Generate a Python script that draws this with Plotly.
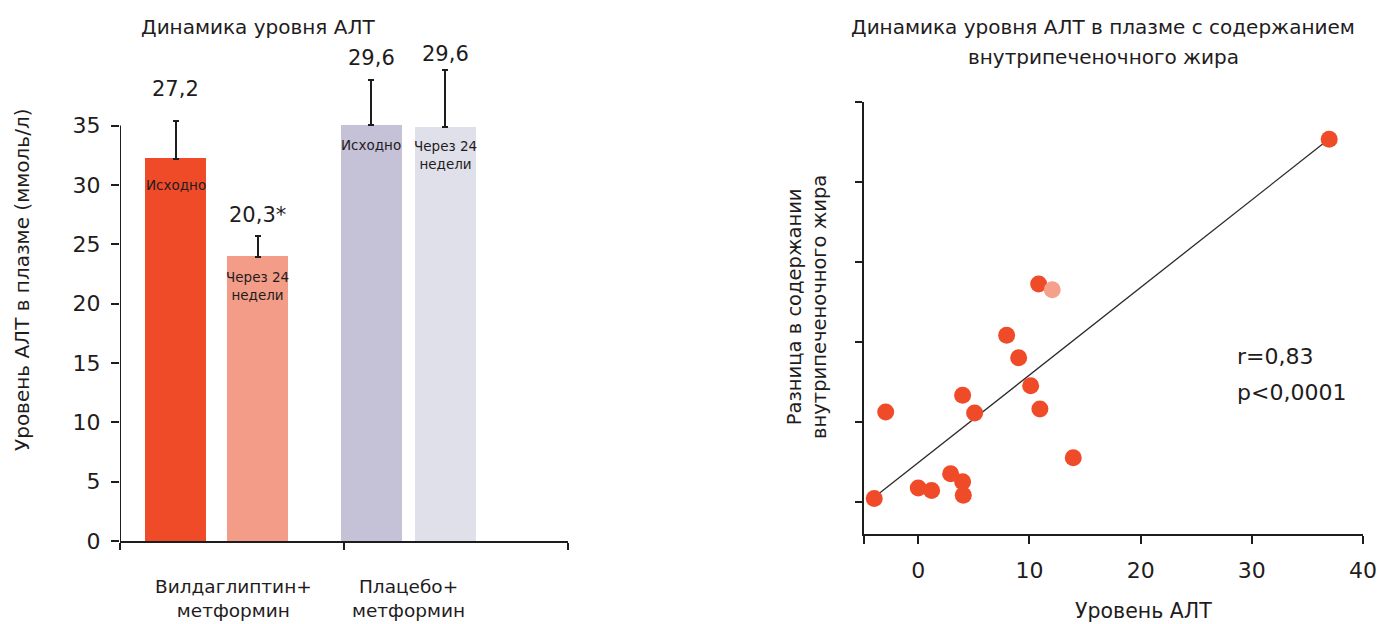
import plotly.graph_objects as go

# ---- data: left panel (ALT level dynamics) ----
bar_names = ["Исходно", "Через 24<br>недели", "Исходно", "Через 24<br>недели"]
bar_positions = [0.248, 0.614, 1.122, 1.453]
bar_values = [32.2, 23.95, 35.05, 34.85]
bar_err_plus = [3.2, 1.75, 3.75, 4.8]
bar_value_labels = ["27,2", "20,3*", "29,6", "29,6"]
bar_colors = ["#F04B29", "#F39D88", "#C5C2D8", "#E0E0EA"]
group_labels = ["Вилдаглиптин+<br>метформин", "Плацебо+<br>метформин"]
group_label_pos = [0.507, 1.29]
left_yticks = [0, 5, 10, 15, 20, 25, 30, 35]

# ---- data: right panel (ALT vs intrahepatic fat) ----
alt_x = [-3.96, -2.93, 0.0, 1.2, 2.91, 3.99, 4.05, 3.99, 5.07, 7.95, 9.03, 10.11, 10.94, 13.94, 10.83, 36.96]
fat_y = [0.04, 1.12, 0.17, 0.14, 0.35, 0.25, 0.08, 1.33, 1.11, 2.08, 1.80, 1.45, 1.16, 0.55, 2.72, 4.53]
alt_x_hl = [12.05]
fat_y_hl = [2.65]
fit_slope = 0.1095
fit_intercept = 0.488
fit_x_span = [-3.5, 36.4]
right_xticks = [0, 10, 20, 30, 40]
right_yticks = [0, 1, 2, 3, 4, 5]
right_title_lines = ["Динамика уровня АЛТ в плазме с содержанием", "внутрипеченочного жира"]

W, H = 1389, 624
INK = "#1F1C1D"
FONT = "DejaVu Sans"


def px_x(p):
    return p / W


def px_y(p):
    return 1 - p / H


fig = go.Figure()

# bars with one-sided error bars
fig.add_trace(go.Bar(
    x=bar_positions, y=bar_values, width=0.272,
    marker=dict(color=bar_colors, line=dict(width=0)),
    error_y=dict(type="data", symmetric=False, array=bar_err_plus,
                 arrayminus=[0] * len(bar_values),
                 color=INK, thickness=2, width=3),
    xaxis="x", yaxis="y", showlegend=False, hoverinfo="skip",
))

# regression line
fit_y = [fit_intercept + fit_slope * v for v in fit_x_span]
fig.add_trace(go.Scatter(
    x=fit_x_span, y=fit_y, mode="lines",
    line=dict(color="#2a2a2a", width=1.3),
    xaxis="x2", yaxis="y2", showlegend=False, hoverinfo="skip",
))
fig.add_trace(go.Scatter(
    x=alt_x, y=fat_y, mode="markers",
    marker=dict(color="#F04B29", size=17, line=dict(width=0)),
    xaxis="x2", yaxis="y2", showlegend=False,
))
fig.add_trace(go.Scatter(
    x=alt_x_hl, y=fat_y_hl, mode="markers",
    marker=dict(color="#F4A08A", size=17, line=dict(width=0)),
    xaxis="x2", yaxis="y2", showlegend=False,
))

# left panel axes: y from 0 at px 541, 11.87 px per unit
y0_px, unit_px = 541, 11.87
ytop_val = 42
left_dom_y = [px_y(y0_px), px_y(y0_px - ytop_val * unit_px)]

axis_common = dict(showgrid=False, zeroline=False, ticks="outside", automargin=False,
                   tickcolor=INK, tickwidth=2, linecolor=INK, linewidth=2,
                   tickfont=dict(family=FONT, size=22, color=INK))

fig.update_layout(
    width=W, height=H, margin=dict(l=0, r=0, t=0, b=0, autoexpand=False),
    paper_bgcolor="white", plot_bgcolor="white",
    bargap=0,
    xaxis=dict(domain=[px_x(120), px_x(568)], range=[0, 2],
               tickvals=[0, 1, 2], ticktext=["", "", ""], ticklen=7,
               showline=True, anchor="y", **{k: v for k, v in axis_common.items() if k != "tickfont"}),
    yaxis=dict(domain=left_dom_y, range=[0, ytop_val], tickvals=left_yticks,
               ticklen=8, showline=False, anchor="x", ticklabelstandoff=6, **axis_common),
    xaxis2=dict(domain=[px_x(864), px_x(1363)], range=[-4.88, 40],
                tickvals=[-4.87] + right_xticks,
                ticktext=[""] + [str(v) for v in right_xticks],
                ticklen=8, showline=True, anchor="y2", ticklabelstandoff=7, **axis_common),
    yaxis2=dict(domain=[px_y(534.3), px_y(101.7)], range=[-0.4075, 5],
                tickvals=right_yticks, showticklabels=False, ticklen=7,
                showline=True, anchor="x2", **axis_common),
)

# left y-axis line (only up to 35)
fig.add_shape(type="line", xref="x", yref="y", x0=0, x1=0, y0=0, y1=35,
              line=dict(color=INK, width=2), layer="above")

ann = []
# value labels above error bars
label_shift = [31.7, 20.7, 22.7, 16.3]
for xp, v, e, t, s in zip(bar_positions, bar_values, bar_err_plus, bar_value_labels, label_shift):
    ann.append(dict(x=xp, y=v + e, xref="x", yref="y", text=t, showarrow=False,
                    xanchor="center", yanchor="middle", yshift=s,
                    font=dict(family=FONT, size=21, color=INK)))
# labels inside bars
inner_shift = [-26.7, -29, -20, -27.7]
for xp, v, t, s in zip(bar_positions, bar_values, bar_names, inner_shift):
    ann.append(dict(x=xp, y=v, xref="x", yref="y", text=t, showarrow=False,
                    xanchor="center", yanchor="middle", yshift=s,
                    font=dict(family=FONT, size=13.5, color=INK)))
# group labels
for xp, t in zip(group_label_pos, group_labels):
    ann.append(dict(x=xp, y=px_y(598), xref="x", yref="paper", text=t, showarrow=False,
                    xanchor="center", yanchor="middle",
                    font=dict(family=FONT, size=18.5, color=INK)))

# titles
ann.append(dict(x=px_x(258), y=px_y(27), xref="paper", yref="paper",
                text="Динамика уровня АЛТ", showarrow=False,
                xanchor="center", yanchor="middle",
                font=dict(family=FONT, size=20, color=INK)))
for line_text, line_y in zip(right_title_lines, [27, 57]):
    ann.append(dict(x=px_x(1103), y=px_y(line_y), xref="paper", yref="paper",
                    text=line_text, showarrow=False, xanchor="center", yanchor="middle",
                    font=dict(family=FONT, size=20, color=INK)))
# axis titles
ann.append(dict(x=px_x(22), y=px_y(280), xref="paper", yref="paper",
                text="Уровень АЛТ в плазме (ммоль/л)", showarrow=False, textangle=-90,
                xanchor="center", yanchor="middle",
                font=dict(family=FONT, size=20, color=INK)))
ann.append(dict(x=px_x(807), y=px_y(307), xref="paper", yref="paper",
                text="Разница в содержании<br>внутрипеченочного жира", showarrow=False,
                textangle=-90, xanchor="center", yanchor="middle",
                font=dict(family=FONT, size=19.5, color=INK)))
ann.append(dict(x=px_x(1143), y=px_y(611), xref="paper", yref="paper",
                text="Уровень АЛТ", showarrow=False,
                xanchor="center", yanchor="middle",
                font=dict(family=FONT, size=20.5, color=INK)))
# correlation stats
ann.append(dict(x=28.5, y=1.81, xref="x2", yref="y2", text="r=0,83", showarrow=False,
                xanchor="left", yanchor="middle", font=dict(family=FONT, size=22, color=INK)))
ann.append(dict(x=28.5, y=1.37, xref="x2", yref="y2", text="p<0,0001", showarrow=False,
                xanchor="left", yanchor="middle", font=dict(family=FONT, size=22, color=INK)))

fig.update_layout(annotations=ann)
fig.write_html("out.html", post_script="document.body.style.margin='0';")
